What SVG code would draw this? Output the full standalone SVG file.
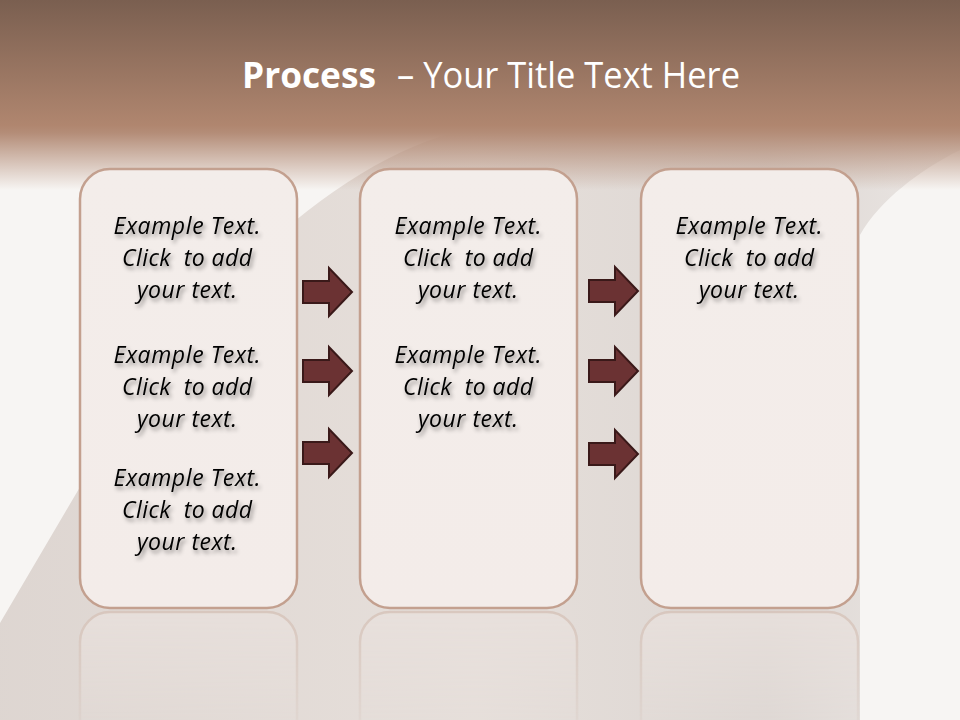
<svg xmlns="http://www.w3.org/2000/svg" width="960" height="720" viewBox="0 0 960 720">
<defs>
  <linearGradient id="hdr" x1="0" y1="0" x2="0" y2="1">
    <stop offset="0" stop-color="#7a5f50"/>
    <stop offset="0.66" stop-color="#b0866f"/>
    <stop offset="0.7" stop-color="#b48d78"/>
    <stop offset="1" stop-color="#b48d78" stop-opacity="0"/>
  </linearGradient>
  <linearGradient id="swoosh" x1="0" y1="0" x2="1" y2="0">
    <stop offset="0" stop-color="#d9d0cb"/>
    <stop offset="0.5" stop-color="#e3dbd6"/>
    <stop offset="0.8" stop-color="#d8d1cd"/>
    <stop offset="1" stop-color="#e9e4e1"/>
  </linearGradient>
  <linearGradient id="boxfill" x1="0" y1="0" x2="0" y2="1">
    <stop offset="0" stop-color="#f3edea"/>
    <stop offset="1" stop-color="#f3ece9"/>
  </linearGradient>
  <linearGradient id="reflfade" x1="0" y1="0" x2="0" y2="1">
    <stop offset="0" stop-color="#fff" stop-opacity="0.9"/>
    <stop offset="1" stop-color="#fff" stop-opacity="0.2"/>
  </linearGradient>
  <mask id="reflmask" maskUnits="userSpaceOnUse" x="0" y="600" width="960" height="120">
    <rect x="0" y="600" width="960" height="120" fill="url(#reflfade)"/>
  </mask>
  <filter id="tshadow" x="-20%" y="-40%" width="140%" height="180%">
    <feDropShadow dx="2" dy="3" stdDeviation="2" flood-color="#000" flood-opacity="0.45"/>
  </filter>
  <path id="arrow" d="M0,-11 H26 V-24 L49,0 L26,24 V11 H0 Z"/>
  <style>
    .box { fill: url(#boxfill); stroke: #c3a08f; stroke-width: 2.5; }
    .refl { fill: #e8e0dc; stroke: #d6c3b9; stroke-width: 2.5; }
    .txt { font-family: "Open Sans", "Liberation Sans", sans-serif; font-style: italic; font-size: 23px; fill: #000; text-anchor: middle; filter: url(#tshadow); white-space: pre; }
    .arr { fill: #6b3233; stroke: #3a1919; stroke-width: 2; stroke-linejoin: miter; }
    .title { font-family: "Open Sans", "Liberation Sans", sans-serif; font-size: 36px; fill: #fff; }
  </style>
</defs>

<!-- background -->
<rect x="0" y="0" width="960" height="720" fill="#f7f5f3"/>
<path d="M-10,640 L90,470 C190,300 330,160 470,128 L960,128 L960,150 C920,170 880,200 860,235 L860,720 L-10,720 Z" fill="url(#swoosh)" opacity="0.85"/>
<rect x="0" y="0" width="960" height="190" fill="url(#hdr)"/>

<!-- title -->
<g id="title">
  <text class="title" x="242" y="88" font-weight="bold" textLength="134" lengthAdjust="spacingAndGlyphs">Process</text>
  <text class="title" x="397" y="88" textLength="343" lengthAdjust="spacingAndGlyphs">– Your Title Text Here</text>
</g>

<!-- reflections -->
<g id="reflections" mask="url(#reflmask)">
  <path class="refl" d="M80,760 V642 A30,30 0 0 1 110,612 H267 A30,30 0 0 1 297,642 V760"/>
  <path class="refl" d="M360,760 V642 A30,30 0 0 1 390,612 H547 A30,30 0 0 1 577,642 V760"/>
  <path class="refl" d="M641,760 V642 A30,30 0 0 1 671,612 H828 A30,30 0 0 1 858,642 V760"/>
</g>

<!-- nodes -->
<g id="box1">
  <rect class="box" x="80" y="169" width="217" height="439" rx="30" ry="30"/>
  <text class="txt" x="187" y="234" textLength="147">Example Text.</text>
  <text class="txt" x="187" y="266" textLength="130">Click  to add</text>
  <text class="txt" x="187" y="298" textLength="100">your text.</text>
  <text class="txt" x="187" y="363" textLength="147">Example Text.</text>
  <text class="txt" x="187" y="395" textLength="130">Click  to add</text>
  <text class="txt" x="187" y="427" textLength="100">your text.</text>
  <text class="txt" x="187" y="486" textLength="147">Example Text.</text>
  <text class="txt" x="187" y="518" textLength="130">Click  to add</text>
  <text class="txt" x="187" y="550" textLength="100">your text.</text>
</g>
<g id="box2">
  <rect class="box" x="360" y="169" width="217" height="439" rx="30" ry="30"/>
  <text class="txt" x="468" y="234" textLength="147">Example Text.</text>
  <text class="txt" x="468" y="266" textLength="130">Click  to add</text>
  <text class="txt" x="468" y="298" textLength="100">your text.</text>
  <text class="txt" x="468" y="363" textLength="147">Example Text.</text>
  <text class="txt" x="468" y="395" textLength="130">Click  to add</text>
  <text class="txt" x="468" y="427" textLength="100">your text.</text>
</g>
<g id="box3">
  <rect class="box" x="641" y="169" width="217" height="439" rx="30" ry="30"/>
  <text class="txt" x="749" y="234" textLength="147">Example Text.</text>
  <text class="txt" x="749" y="266" textLength="130">Click  to add</text>
  <text class="txt" x="749" y="298" textLength="100">your text.</text>
</g>

<!-- connectors -->
<g id="connectors">
  <use href="#arrow" class="arr" transform="translate(303,292)"/>
  <use href="#arrow" class="arr" transform="translate(303,371)"/>
  <use href="#arrow" class="arr" transform="translate(303,453)"/>
  <use href="#arrow" class="arr" transform="translate(589,291)"/>
  <use href="#arrow" class="arr" transform="translate(589,371)"/>
  <use href="#arrow" class="arr" transform="translate(589,454)"/>
</g>
</svg>
